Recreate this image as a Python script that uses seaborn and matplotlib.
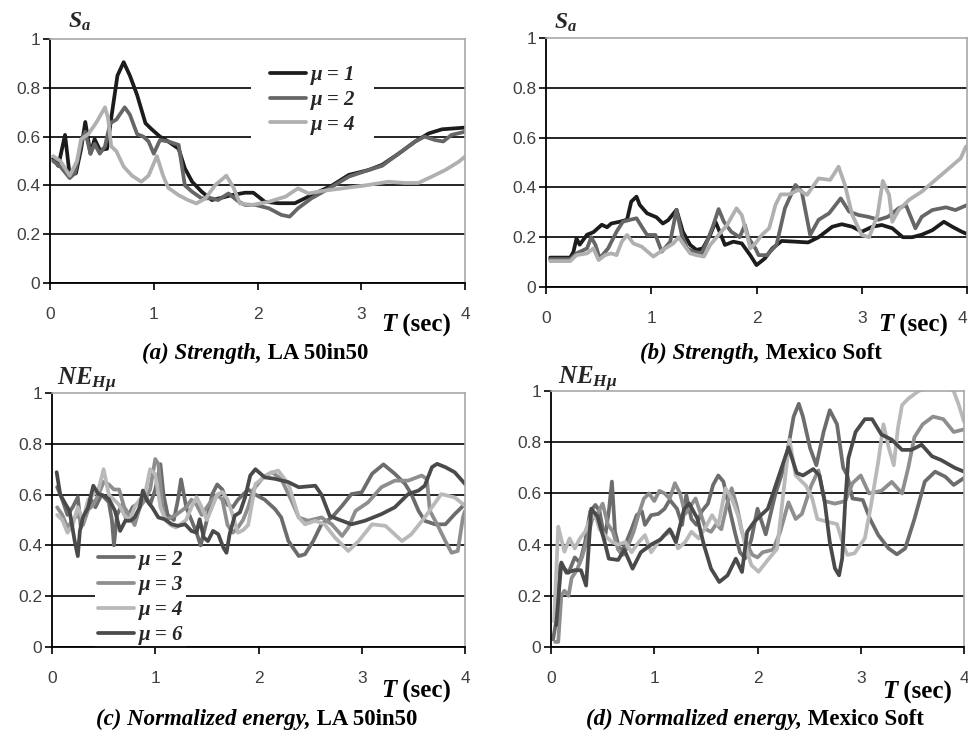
import pandas as pd
import matplotlib
matplotlib.use("Agg")
import matplotlib.pyplot as plt
import seaborn as sns
from matplotlib.offsetbox import TextArea, HPacker, AnnotationBbox

# ---- (a) Strength, LA 50in50 ----
Ta_mu1 = [0.03, 0.08, 0.145, 0.19, 0.25, 0.30, 0.34, 0.39, 0.43, 0.48,
          0.55, 0.59, 0.65, 0.71, 0.77, 0.84, 0.92, 0.98, 1.06, 1.14,
          1.24, 1.30, 1.37, 1.46, 1.56, 1.66, 1.75, 1.88, 1.96, 2.07,
          2.20, 2.36, 2.52, 2.72, 2.88, 3.07, 3.20, 3.36, 3.52, 3.65,
          3.78, 3.91, 4.0]
Sa_a_mu1 = [0.51, 0.48, 0.607, 0.44, 0.45, 0.55, 0.66, 0.53, 0.59, 0.545,
            0.55, 0.675, 0.85, 0.905, 0.85, 0.77, 0.655, 0.63, 0.60, 0.58,
            0.55, 0.47, 0.415, 0.375, 0.34, 0.35, 0.36, 0.37, 0.37, 0.333,
            0.327, 0.327, 0.36, 0.40, 0.443, 0.463, 0.484, 0.53, 0.58, 0.613,
            0.63, 0.634, 0.637]
Ta_mu2 = [0.03, 0.10, 0.19, 0.24, 0.305, 0.34, 0.39, 0.43, 0.48, 0.53,
          0.58, 0.64, 0.72, 0.77, 0.84, 0.90, 0.95, 1.0, 1.06, 1.14,
          1.24, 1.30, 1.37, 1.46, 1.56, 1.62, 1.72, 1.82, 1.88, 1.98,
          2.11, 2.23, 2.31, 2.39, 2.52, 2.72, 2.88, 3.07, 3.20, 3.36,
          3.52, 3.61, 3.71, 3.79, 3.87, 4.0]
Sa_a_mu2 = [0.50, 0.477, 0.43, 0.45, 0.58, 0.62, 0.53, 0.57, 0.53, 0.56,
            0.655, 0.67, 0.72, 0.69, 0.61, 0.60, 0.58, 0.53, 0.586, 0.58,
            0.566, 0.40, 0.374, 0.347, 0.347, 0.34, 0.367, 0.333, 0.32, 0.32,
            0.306, 0.279, 0.272, 0.306, 0.347, 0.395, 0.436, 0.463, 0.48, 0.53,
            0.58, 0.60, 0.586, 0.58, 0.607, 0.62]
Ta_mu4 = [0.03, 0.10, 0.19, 0.26, 0.30, 0.37, 0.45, 0.53, 0.56, 0.59,
          0.64, 0.71, 0.79, 0.88, 0.95, 1.03, 1.09, 1.14, 1.24, 1.33,
          1.41, 1.50, 1.59, 1.70, 1.77, 1.83, 1.95, 2.11, 2.27, 2.39,
          2.49, 2.62, 2.82, 3.04, 3.26, 3.42, 3.55, 3.68, 3.81, 3.94,
          4.0]
Sa_a_mu4 = [0.52, 0.50, 0.44, 0.50, 0.59, 0.61, 0.66, 0.72, 0.675, 0.56,
            0.54, 0.477, 0.44, 0.415, 0.44, 0.52, 0.44, 0.39, 0.36, 0.34,
            0.326, 0.347, 0.40, 0.44, 0.39, 0.326, 0.32, 0.333, 0.354, 0.388,
            0.367, 0.377, 0.388, 0.40, 0.415, 0.41, 0.41, 0.436, 0.463, 0.497,
            0.518]

# ---- (b) Strength, Mexico Soft ----
Tb_mu1 = [0.04, 0.23, 0.26, 0.29, 0.32, 0.39, 0.45, 0.53, 0.58, 0.62,
          0.70, 0.77, 0.81, 0.86, 0.89, 0.96, 1.05, 1.11, 1.16, 1.24,
          1.30, 1.37, 1.43, 1.49, 1.56, 1.61, 1.65, 1.70, 1.78, 1.86,
          1.94, 2.0, 2.08, 2.15, 2.24, 2.37, 2.49, 2.59, 2.72, 2.81,
          2.91, 3.0, 3.10, 3.19, 3.29, 3.39, 3.48, 3.57, 3.67, 3.78,
          3.86, 3.95, 4.0]
Sa_b_mu1 = [0.118, 0.118, 0.14, 0.195, 0.17, 0.21, 0.22, 0.25, 0.24, 0.255,
            0.262, 0.27, 0.343, 0.363, 0.33, 0.296, 0.28, 0.255, 0.268, 0.31,
            0.222, 0.169, 0.149, 0.155, 0.209, 0.262, 0.222, 0.169, 0.182, 0.175,
            0.128, 0.088, 0.115, 0.155, 0.185, 0.182, 0.179, 0.20, 0.242, 0.252,
            0.242, 0.222, 0.242, 0.249, 0.236, 0.20, 0.20, 0.21, 0.228, 0.262,
            0.242, 0.222, 0.213]
Tb_mu2 = [0.04, 0.23, 0.29, 0.39, 0.43, 0.47, 0.51, 0.59, 0.67, 0.73,
          0.80, 0.86, 0.91, 0.96, 1.04, 1.10, 1.18, 1.24, 1.29, 1.34,
          1.40, 1.48, 1.53, 1.59, 1.64, 1.69, 1.76, 1.84, 1.89, 1.92,
          1.99, 2.02, 2.10, 2.19, 2.27, 2.37, 2.43, 2.51, 2.59, 2.69,
          2.80, 2.88, 2.97, 3.06, 3.16, 3.25, 3.35, 3.42, 3.51, 3.57,
          3.67, 3.80, 3.89, 4.0]
Sa_b_mu2 = [0.112, 0.112, 0.135, 0.155, 0.20, 0.169, 0.115, 0.155, 0.222, 0.262,
            0.27, 0.276, 0.242, 0.209, 0.209, 0.142, 0.182, 0.31, 0.209, 0.155,
            0.142, 0.135, 0.182, 0.249, 0.313, 0.262, 0.222, 0.20, 0.249, 0.20,
            0.155, 0.128, 0.128, 0.169, 0.316, 0.41, 0.383, 0.209, 0.27, 0.296,
            0.356, 0.303, 0.289, 0.282, 0.27, 0.282, 0.316, 0.329, 0.236, 0.282,
            0.309, 0.32, 0.309, 0.329]
Tb_mu4 = [0.04, 0.23, 0.29, 0.39, 0.45, 0.50, 0.56, 0.62, 0.67, 0.72,
          0.77, 0.83, 0.91, 1.02, 1.11, 1.21, 1.26, 1.31, 1.37, 1.43,
          1.50, 1.56, 1.64, 1.72, 1.81, 1.86, 1.91, 1.94, 1.99, 2.05,
          2.12, 2.18, 2.23, 2.31, 2.40, 2.48, 2.59, 2.70, 2.78, 2.84,
          2.91, 3.0, 3.07, 3.15, 3.20, 3.26, 3.29, 3.35, 3.45, 3.57,
          3.70, 3.83, 3.94, 3.99]
Sa_b_mu4 = [0.104, 0.104, 0.128, 0.135, 0.155, 0.108, 0.128, 0.135, 0.128, 0.182,
            0.209, 0.175, 0.162, 0.122, 0.149, 0.175, 0.20, 0.169, 0.135, 0.128,
            0.122, 0.169, 0.209, 0.249, 0.316, 0.289, 0.209, 0.155, 0.175, 0.209,
            0.236, 0.329, 0.372, 0.372, 0.39, 0.37, 0.436, 0.43, 0.483, 0.41,
            0.289, 0.209, 0.20, 0.289, 0.426, 0.37, 0.262, 0.309, 0.35, 0.383,
            0.43, 0.477, 0.517, 0.564]

# ---- (c) Normalized energy, LA 50in50 ----
Tc_mu2 = [0.05, 0.10, 0.15, 0.20, 0.25, 0.28, 0.32, 0.38, 0.42, 0.48,
          0.55, 0.58, 0.60, 0.63, 0.68, 0.72, 0.78, 0.85, 0.90, 0.95,
          1.0, 1.05, 1.08, 1.12, 1.18, 1.22, 1.25, 1.30, 1.35, 1.40,
          1.44, 1.50, 1.55, 1.60, 1.65, 1.70, 1.75, 1.80, 1.85, 1.90,
          1.97, 2.06, 2.16, 2.22, 2.29, 2.39, 2.45, 2.53, 2.61, 2.71,
          2.81, 2.90, 3.0, 3.10, 3.21, 3.32, 3.42, 3.48, 3.55, 3.61,
          3.71, 3.81, 3.90, 4.0]
NE_c_mu2 = [0.63, 0.58, 0.52, 0.55, 0.59, 0.47, 0.52, 0.58, 0.55, 0.60,
            0.57, 0.50, 0.40, 0.52, 0.56, 0.50, 0.55, 0.57, 0.60, 0.56,
            0.62, 0.72, 0.60, 0.52, 0.50, 0.58, 0.66, 0.55, 0.50, 0.45,
            0.40, 0.50, 0.60, 0.64, 0.62, 0.56, 0.55, 0.58, 0.60, 0.62,
            0.60, 0.58, 0.543, 0.51, 0.417, 0.358, 0.365, 0.417, 0.483, 0.51,
            0.556, 0.602, 0.609, 0.682, 0.719, 0.682, 0.642, 0.602, 0.536, 0.497,
            0.483, 0.483, 0.523, 0.563]
Tc_mu3 = [0.05, 0.10, 0.15, 0.20, 0.25, 0.30, 0.35, 0.40, 0.45, 0.50,
          0.55, 0.60, 0.65, 0.70, 0.75, 0.80, 0.85, 0.90, 0.95, 1.0,
          1.03, 1.07, 1.10, 1.20, 1.30, 1.35, 1.40, 1.45, 1.50, 1.55,
          1.60, 1.65, 1.70, 1.75, 1.80, 1.85, 1.90, 1.95, 2.05, 2.13,
          2.22, 2.32, 2.39, 2.48, 2.61, 2.71, 2.81, 2.87, 2.94, 3.06,
          3.19, 3.32, 3.45, 3.58, 3.63, 3.66, 3.73, 3.81, 3.87, 3.93,
          3.98, 4.0]
NE_c_mu3 = [0.55, 0.52, 0.47, 0.50, 0.52, 0.48, 0.54, 0.56, 0.60, 0.65,
            0.64, 0.62, 0.62, 0.55, 0.52, 0.48, 0.55, 0.58, 0.62, 0.74,
            0.72, 0.55, 0.50, 0.52, 0.55, 0.58, 0.56, 0.52, 0.55, 0.58,
            0.60, 0.58, 0.48, 0.45, 0.47, 0.50, 0.55, 0.62, 0.67, 0.688,
            0.662, 0.576, 0.51, 0.497, 0.51, 0.483, 0.437, 0.47, 0.536, 0.569,
            0.629, 0.655, 0.655, 0.675, 0.662, 0.536, 0.483, 0.417, 0.371, 0.378,
            0.51, 0.536]
Tc_mu4 = [0.05, 0.10, 0.15, 0.20, 0.25, 0.30, 0.35, 0.40, 0.45, 0.50,
          0.55, 0.60, 0.65, 0.70, 0.75, 0.80, 0.85, 0.90, 0.95, 1.0,
          1.05, 1.10, 1.15, 1.20, 1.30, 1.35, 1.40, 1.45, 1.50, 1.55,
          1.60, 1.65, 1.70, 1.75, 1.80, 1.85, 1.90, 1.97, 2.10, 2.19,
          2.29, 2.39, 2.45, 2.55, 2.64, 2.74, 2.87, 2.97, 3.10, 3.23,
          3.39, 3.48, 3.61, 3.77, 3.90, 4.0]
NE_c_mu4 = [0.52, 0.50, 0.45, 0.48, 0.55, 0.50, 0.58, 0.60, 0.62, 0.70,
            0.60, 0.58, 0.56, 0.52, 0.50, 0.55, 0.58, 0.60, 0.70, 0.68,
            0.55, 0.50, 0.48, 0.47, 0.50, 0.55, 0.59, 0.55, 0.50, 0.55,
            0.60, 0.61, 0.58, 0.52, 0.45, 0.46, 0.48, 0.642, 0.682, 0.695,
            0.642, 0.51, 0.483, 0.497, 0.483, 0.431, 0.378, 0.417, 0.483, 0.477,
            0.417, 0.444, 0.51, 0.602, 0.589, 0.556]
Tc_mu6 = [0.045, 0.08, 0.13, 0.17, 0.22, 0.25, 0.27, 0.30, 0.35, 0.40,
          0.45, 0.50, 0.55, 0.61, 0.66, 0.71, 0.76, 0.80, 0.85, 0.88,
          0.92, 0.97, 1.03, 1.09, 1.16, 1.22, 1.29, 1.35, 1.40, 1.43,
          1.47, 1.51, 1.56, 1.61, 1.66, 1.69, 1.72, 1.77, 1.82, 1.87,
          1.92, 1.97, 2.06, 2.16, 2.29, 2.39, 2.55, 2.61, 2.69, 2.77,
          2.90, 3.03, 3.19, 3.32, 3.45, 3.55, 3.61, 3.68, 3.73, 3.81,
          3.90, 4.0]
NE_c_mu6 = [0.688, 0.60, 0.563, 0.536, 0.417, 0.358, 0.457, 0.51, 0.55, 0.635,
            0.602, 0.596, 0.583, 0.536, 0.457, 0.497, 0.497, 0.51, 0.55, 0.616,
            0.576, 0.55, 0.51, 0.503, 0.483, 0.477, 0.483, 0.457, 0.45, 0.503,
            0.431, 0.417, 0.457, 0.444, 0.391, 0.371, 0.444, 0.517, 0.53, 0.589,
            0.675, 0.70, 0.668, 0.662, 0.649, 0.629, 0.635, 0.60, 0.516, 0.503,
            0.483, 0.497, 0.523, 0.55, 0.602, 0.616, 0.635, 0.708, 0.721, 0.708,
            0.688, 0.642]

# ---- (d) Normalized energy, Mexico Soft ----
Td_mu2 = [0.02, 0.055, 0.09, 0.12, 0.17, 0.23, 0.28, 0.33, 0.38, 0.43,
          0.47, 0.52, 0.56, 0.59, 0.62, 0.67, 0.72, 0.78, 0.83, 0.88,
          0.91, 0.97, 1.04, 1.10, 1.15, 1.22, 1.27, 1.31, 1.36, 1.41,
          1.46, 1.52, 1.57, 1.62, 1.67, 1.72, 1.78, 1.83, 1.88, 1.94,
          2.0, 2.08, 2.17, 2.27, 2.35, 2.40, 2.44, 2.51, 2.57, 2.64,
          2.70, 2.77, 2.83, 2.87, 2.92, 3.02, 3.09, 3.17, 3.27, 3.35,
          3.43, 3.52, 3.62, 3.72, 3.82, 3.90, 4.0]
NE_d_mu2 = [0.03, 0.11, 0.32, 0.31, 0.29, 0.35, 0.33, 0.41, 0.53, 0.555,
            0.53, 0.42, 0.53, 0.646, 0.45, 0.37, 0.40, 0.46, 0.515, 0.53,
            0.477, 0.515, 0.52, 0.54, 0.575, 0.54, 0.477, 0.594, 0.50, 0.477,
            0.53, 0.56, 0.633, 0.67, 0.646, 0.555, 0.45, 0.37, 0.346, 0.42,
            0.54, 0.44, 0.593, 0.72, 0.90, 0.95, 0.90, 0.776, 0.71, 0.84,
            0.925, 0.87, 0.70, 0.67, 0.58, 0.574, 0.50, 0.437, 0.385, 0.362,
            0.385, 0.50, 0.646, 0.685, 0.665, 0.633, 0.66]
Td_mu3 = [0.04, 0.07, 0.10, 0.13, 0.17, 0.20, 0.25, 0.30, 0.35, 0.40,
          0.45, 0.50, 0.55, 0.60, 0.65, 0.70, 0.75, 0.80, 0.85, 0.90,
          0.95, 1.0, 1.05, 1.10, 1.15, 1.20, 1.25, 1.30, 1.35, 1.40,
          1.45, 1.50, 1.55, 1.60, 1.65, 1.70, 1.75, 1.80, 1.85, 1.90,
          1.95, 2.0, 2.05, 2.15, 2.22, 2.30, 2.37, 2.43, 2.52, 2.59,
          2.65, 2.75, 2.85, 2.92, 3.0, 3.08, 3.20, 3.30, 3.40, 3.46,
          3.52, 3.60, 3.70, 3.80, 3.90, 4.0]
NE_d_mu3 = [0.02, 0.02, 0.20, 0.22, 0.20, 0.27, 0.30, 0.35, 0.42, 0.50,
            0.52, 0.56, 0.48, 0.45, 0.38, 0.36, 0.40, 0.45, 0.52, 0.58,
            0.60, 0.57, 0.61, 0.60, 0.58, 0.64, 0.60, 0.52, 0.55, 0.58,
            0.52, 0.46, 0.45, 0.48, 0.46, 0.55, 0.62, 0.55, 0.45, 0.40,
            0.36, 0.35, 0.37, 0.38, 0.45, 0.565, 0.50, 0.52, 0.63, 0.69,
            0.57, 0.56, 0.57, 0.64, 0.67, 0.60, 0.61, 0.645, 0.60, 0.70,
            0.82, 0.87, 0.90, 0.89, 0.84, 0.85]
Td_mu4 = [0.03, 0.07, 0.09, 0.13, 0.18, 0.23, 0.28, 0.33, 0.38, 0.43,
          0.47, 0.52, 0.59, 0.65, 0.72, 0.78, 0.85, 0.91, 0.97, 1.04,
          1.10, 1.17, 1.23, 1.30, 1.36, 1.43, 1.49, 1.56, 1.62, 1.69,
          1.75, 1.81, 1.88, 1.94, 2.01, 2.10, 2.19, 2.25, 2.31, 2.37,
          2.47, 2.53, 2.58, 2.67, 2.77, 2.83, 2.87, 2.94, 3.04, 3.10,
          3.17, 3.22, 3.27, 3.32, 3.36, 3.40, 3.46, 3.56, 3.70, 3.85,
          3.90, 3.95, 4.0]
NE_d_mu4 = [0.10, 0.47, 0.437, 0.372, 0.424, 0.385, 0.424, 0.45, 0.50, 0.515,
            0.46, 0.437, 0.41, 0.40, 0.41, 0.37, 0.41, 0.437, 0.37, 0.41,
            0.437, 0.45, 0.385, 0.41, 0.45, 0.424, 0.463, 0.515, 0.476, 0.62,
            0.58, 0.515, 0.40, 0.32, 0.294, 0.34, 0.384, 0.60, 0.81, 0.67,
            0.63, 0.58, 0.50, 0.49, 0.48, 0.40, 0.36, 0.366, 0.425, 0.555,
            0.725, 0.87, 0.78, 0.71, 0.855, 0.945, 0.97, 1.0, 1.02, 1.01,
            1.0, 0.945, 0.88]
Td_mu6 = [0.05, 0.10, 0.15, 0.23, 0.29, 0.34, 0.39, 0.45, 0.52, 0.56,
          0.65, 0.71, 0.79, 0.87, 0.97, 1.06, 1.15, 1.21, 1.29, 1.34,
          1.42, 1.48, 1.55, 1.63, 1.71, 1.79, 1.85, 1.90, 1.97, 2.10,
          2.20, 2.30, 2.38, 2.44, 2.54, 2.60, 2.65, 2.70, 2.75, 2.79,
          2.82, 2.85, 2.88, 2.95, 3.04, 3.11, 3.20, 3.30, 3.40, 3.49,
          3.59, 3.69, 3.78, 3.91, 4.0]
NE_d_mu6 = [0.085, 0.33, 0.29, 0.30, 0.30, 0.24, 0.54, 0.51, 0.41, 0.345,
            0.34, 0.38, 0.306, 0.37, 0.40, 0.42, 0.46, 0.41, 0.54, 0.56,
            0.50, 0.40, 0.306, 0.254, 0.28, 0.345, 0.293, 0.45, 0.49, 0.54,
            0.66, 0.78, 0.68, 0.67, 0.695, 0.67, 0.57, 0.41, 0.307, 0.28,
            0.346, 0.57, 0.737, 0.84, 0.89, 0.89, 0.83, 0.81, 0.77, 0.77,
            0.79, 0.745, 0.73, 0.70, 0.685]

y_ticks = [0, 0.2, 0.4, 0.6, 0.8, 1]
y_tick_labels = ["0", "0.2", "0.4", "0.6", "0.8", "1"]
x_ticks = [0, 1, 2, 3, 4]

# grey shades used in the original figure
col_a = {"\u03bc = 1": "#1c1c1c", "\u03bc = 2": "#666666", "\u03bc = 4": "#b0b0b0"}
col_c = {"\u03bc = 2": "#6c6c6c", "\u03bc = 3": "#8e8e8e",
         "\u03bc = 4": "#b9b9b9", "\u03bc = 6": "#4a4a4a"}

sns.set_theme(style="white")
plt.rcParams["mathtext.fontset"] = "custom"
plt.rcParams["mathtext.it"] = "Liberation Serif:italic:bold"
plt.rcParams["mathtext.rm"] = "Liberation Serif:bold"
plt.rcParams["mathtext.bf"] = "Liberation Serif:bold"
plt.rcParams["font.family"] = ["Liberation Sans", "DejaVu Sans"]

W, H = 968, 738
fig = plt.figure(figsize=(W / 100, H / 100), dpi=100)
fig.patch.set_facecolor("white")


def px_axes(l, t, r, b):
    return fig.add_axes([l / W, 1 - b / H, (r - l) / W, (b - t) / H])


def style_axes(ax):
    ax.set_xlim(0, 4)
    ax.set_ylim(0, 1)
    ax.set_yticks(y_ticks)
    ax.set_yticklabels(y_tick_labels)
    ax.set_xticks(x_ticks)
    ax.set_xticklabels([str(t) for t in x_ticks])
    ax.set_axisbelow(True)
    ax.yaxis.grid(True, color="black", lw=1.2)
    ax.xaxis.grid(False)
    ax.get_ygridlines()[-1].set_visible(False)
    for s in ["top", "right"]:
        ax.spines[s].set_color("#a8a8a8")
        ax.spines[s].set_linewidth(1.2)
    for s in ["left", "bottom"]:
        ax.spines[s].set_color("black")
        ax.spines[s].set_linewidth(1.3)
    ax.tick_params(axis="y", direction="out", length=5, width=1.2, pad=2,
                   labelsize=12.5, labelcolor="#404040", color="black", left=True)
    ax.tick_params(axis="x", direction="out", length=5, width=1.2, pad=12,
                   labelsize=12.5, labelcolor="#404040", color="black", bottom=True)
    ax.set_xlabel("")
    ax.set_ylabel("")


def draw(ax, series, colors):
    for label, (t, v) in series.items():
        df = pd.DataFrame({"T": t, "v": v})
        sns.lineplot(data=df, x="T", y="v", ax=ax, color=colors[label],
                     lw=2.7, label=label, estimator=None)


serif = dict(fontfamily="Liberation Serif", fontweight="bold")


def mixed_text(parts, x, y, size):
    boxes = [TextArea(t, textprops=dict(fontsize=size, fontstyle=st, color="black", **serif))
             for t, st in parts]
    pack = HPacker(children=boxes, align="baseline", pad=0, sep=0)
    ab = AnnotationBbox(pack, (x / W, 1 - y / H), xycoords="figure fraction",
                        frameon=False, box_alignment=(0.5, 0.5))
    fig.add_artist(ab)


leg_font = dict(family="Liberation Serif", weight="bold", style="italic", size=15)

ax_a = px_axes(50, 39, 465, 283)
draw(ax_a, {"\u03bc = 1": (Ta_mu1, Sa_a_mu1), "\u03bc = 2": (Ta_mu2, Sa_a_mu2),
            "\u03bc = 4": (Ta_mu4, Sa_a_mu4)}, col_a)
style_axes(ax_a)
leg = ax_a.legend(loc="center", bbox_to_anchor=(0.633, 0.75), prop=leg_font,
                  frameon=True, framealpha=1, edgecolor="white", fancybox=False,
                  borderpad=0.9, labelspacing=0.22, handlelength=1.7,
                  handletextpad=0.25)
leg.get_frame().set_linewidth(0)
leg.set_zorder(2.4)

ax_b = px_axes(546, 38, 967, 287)
draw(ax_b, {"\u03bc = 1": (Tb_mu1, Sa_b_mu1), "\u03bc = 2": (Tb_mu2, Sa_b_mu2),
            "\u03bc = 4": (Tb_mu4, Sa_b_mu4)}, col_a)
style_axes(ax_b)
ax_b.get_legend().remove()
# the last tick label sits on the figure edge; keep it inside
ax_b.get_xticklabels()[-1].set_horizontalalignment("right")

ax_c = px_axes(52, 393, 465, 647)
draw(ax_c, {"\u03bc = 2": (Tc_mu2, NE_c_mu2), "\u03bc = 3": (Tc_mu3, NE_c_mu3),
            "\u03bc = 4": (Tc_mu4, NE_c_mu4), "\u03bc = 6": (Tc_mu6, NE_c_mu6)}, col_c)
style_axes(ax_c)
leg = ax_c.legend(loc="center", bbox_to_anchor=(0.215, 0.195), prop=leg_font,
                  frameon=True, framealpha=1, edgecolor="white", fancybox=False,
                  borderpad=0.15, labelspacing=0.25, handlelength=1.7,
                  handletextpad=0.25)
leg.get_frame().set_linewidth(0)
leg.set_zorder(2.4)

ax_d = px_axes(551, 391, 964, 647)
draw(ax_d, {"\u03bc = 2": (Td_mu2, NE_d_mu2), "\u03bc = 3": (Td_mu3, NE_d_mu3),
            "\u03bc = 4": (Td_mu4, NE_d_mu4), "\u03bc = 6": (Td_mu6, NE_d_mu6)}, col_c)
style_axes(ax_d)
ax_d.get_legend().remove()

# axis titles
fig.text(68 / W, 1 - 22 / H, r"$S_a$", fontsize=17, va="center", ha="left")
fig.text(554 / W, 1 - 23 / H, r"$S_a$", fontsize=17, va="center", ha="left")
fig.text(57 / W, 1 - 380 / H, r"$NE_{H\mu}$", fontsize=18, va="center", ha="left")
fig.text(558 / W, 1 - 379 / H, r"$NE_{H\mu}$", fontsize=18, va="center", ha="left")

for x, y in [(416, 325), (913, 325), (416, 691), (917, 692)]:
    mixed_text([("T", "italic"), (" (sec)", "normal")], x, y, 18)

mixed_text([("(a) Strength,", "italic"), (" LA 50in50", "normal")], 255, 353, 16.5)
mixed_text([("(b) Strength,", "italic"), (" Mexico Soft", "normal")], 761, 353, 16.5)
mixed_text([("(c) Normalized energy,", "italic"), (" LA 50in50", "normal")], 257, 719, 16.5)
mixed_text([("(d) Normalized energy,", "italic"), (" Mexico Soft", "normal")], 755, 719, 16.5)

fig.savefig("out.png", dpi=100, facecolor="white")
